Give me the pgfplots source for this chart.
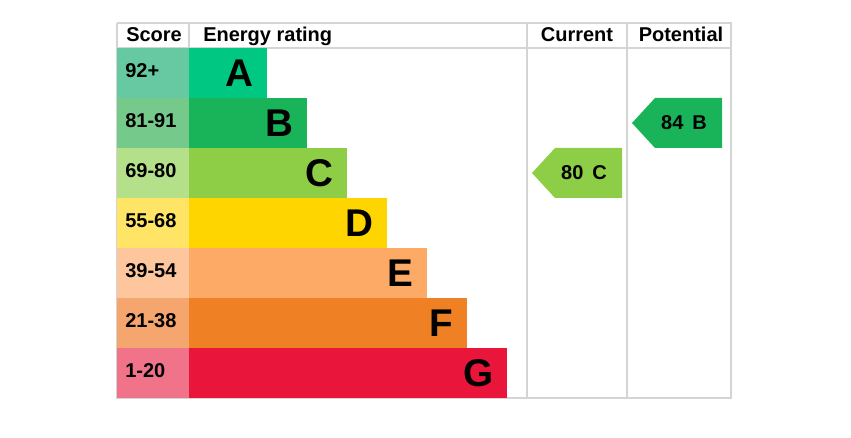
\documentclass[border=0pt]{standalone}
\usepackage{fontspec}
\setmainfont{Liberation Sans}
\usepackage{pgfplots}
\pgfplotsset{compat=1.18}

% band colours (bar) and the lighter score cells
\definecolor{cA}{HTML}{00C781}\definecolor{sA}{HTML}{66C9A2}
\definecolor{cB}{HTML}{19B459}\definecolor{sB}{HTML}{75C98B}
\definecolor{cC}{HTML}{8DCE46}\definecolor{sC}{HTML}{B5E08A}
\definecolor{cD}{HTML}{FFD500}\definecolor{sD}{HTML}{FFE466}
\definecolor{cE}{HTML}{FCAA65}\definecolor{sE}{HTML}{FDC69C}
\definecolor{cF}{HTML}{EF8023}\definecolor{sF}{HTML}{F4A66E}
\definecolor{cG}{HTML}{E9153B}\definecolor{sG}{HTML}{F07389}
\definecolor{gridc}{HTML}{D4D4D4}

% units: 1 axis unit = 1 px of the reference = 0.75pt
\pgfplotsset{
  band/.style={xbar, bar width=50, bar shift=0pt, draw=none, fill=#1,
    point meta=explicit symbolic, nodes near coords,
    every node near coord/.append style={anchor=east, inner sep=0pt, xshift=-10pt,
      font=\bfseries\fontsize{29pt}{29pt}\selectfont}},
  score/.style={xbar, bar width=50, bar shift=0pt, draw=none, fill=#1,
    point meta=explicit symbolic, nodes near coords,
    every node near coord/.append style={anchor=west, inner sep=0pt, xshift=-48pt, yshift=1.5pt,
      font=\bfseries\fontsize{15pt}{15pt}\selectfont}},
  frame/.style={draw=gridc, line width=1.5pt},
  txt/.style={draw=none, point meta=explicit symbolic, nodes near coords,
    every node near coord/.append style={anchor=#1, inner sep=0pt,
      font=\bfseries\fontsize{15pt}{15pt}\selectfont}},
}

\begin{document}
\begin{tikzpicture}
\begin{axis}[
  scale only axis, width=638.25pt, height=328.5pt,
  xmin=-117, xmax=734, ymin=0, ymax=438, y dir=reverse,
  hide axis, clip=false,
]
% invisible corners so the page is the whole picture
\addplot[draw=none] coordinates {(-117,0) (734,438)};

% table frame
\addplot[frame] coordinates {(0,23) (614,23) (614,398) (0,398) (0,23)};
\addplot[frame] coordinates {(0,48) (614,48)};
\addplot[frame] coordinates {(72,23) (72,48)};
\addplot[frame] coordinates {(410,23) (410,398)};
\addplot[frame] coordinates {(510,23) (510,398)};

% energy bands
\addplot[band=cA] coordinates {(150,73) [A]};
\addplot[band=cB] coordinates {(190,123) [B]};
\addplot[band=cC] coordinates {(230,173) [C]};
\addplot[band=cD] coordinates {(270,223) [D]};
\addplot[band=cE] coordinates {(310,273) [E]};
\addplot[band=cF] coordinates {(350,323) [F]};
\addplot[band=cG] coordinates {(390,373) [G]};

% score cells
\addplot[score=sA] coordinates {(72,73) [92+]};
\addplot[score=sB] coordinates {(72,123) [81-91]};
\addplot[score=sC] coordinates {(72,173) [69-80]};
\addplot[score=sD] coordinates {(72,223) [55-68]};
\addplot[score=sE] coordinates {(72,273) [39-54]};
\addplot[score=sF] coordinates {(72,323) [21-38]};
\addplot[score=sG] coordinates {(72,373) [1-20]};

% header
\addplot[txt=base west] coordinates {(9,42) [Score] (86,42) [Energy rating]};
\addplot[txt=base] coordinates {(460,42) [Current] (564,42) [Potential]};

% current 80 C, potential 84 B
\addplot[fill=cC, draw=none] coordinates {(415,173) (438,148) (505,148) (505,198) (438,198) (415,173)};
\addplot[fill=cB, draw=none] coordinates {(515,123) (538,98) (605,98) (605,148) (538,148) (515,123)};
\addplot[txt=center] coordinates {(467,173) [80\hspace{0.45em}C] (567,123) [84\hspace{0.45em}B]};
\end{axis}
\end{tikzpicture}
\end{document}
